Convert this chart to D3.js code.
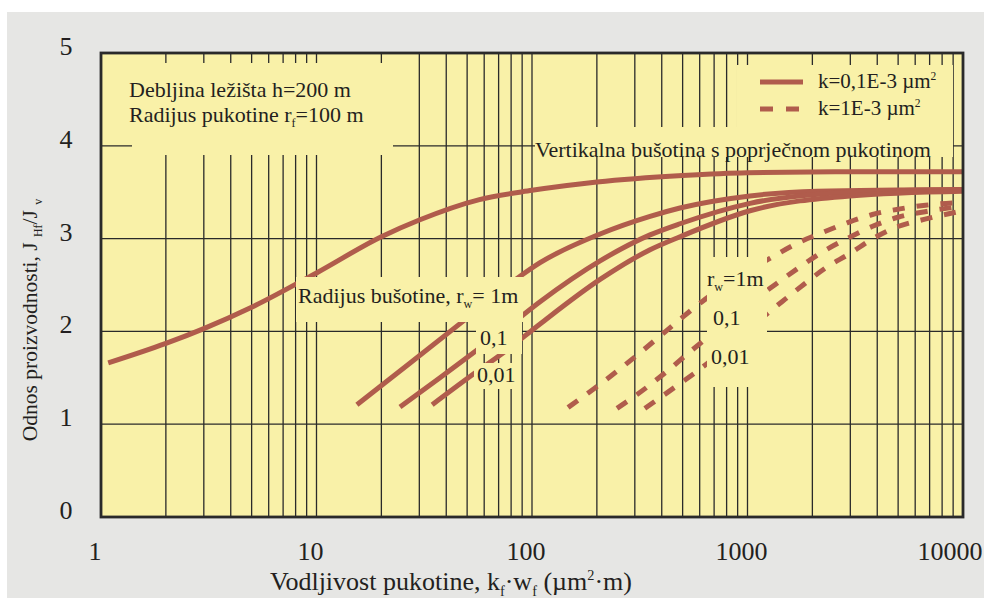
<!DOCTYPE html>
<html>
<head>
<meta charset="utf-8">
<script src="https://cdn.jsdelivr.net/npm/d3@7"></script>
<style>
  body { margin: 0; background: #fff; }
  text { font-family: "Liberation Serif", "Times New Roman", serif; fill: #231f20; }
</style>
</head>
<body>
<svg id="chart" width="984" height="598"></svg>
<script>
// tick labels
var xTicks = [1, 10, 100, 1000, 10000];
var yTicks = [0, 1, 2, 3, 4, 5];

// vertical well with transverse fracture  [kf*wf, J ratio]
var vertWell = [[1.08,1.66],[2,1.87],[3,2.03],[5,2.26],[10,2.63],[20,3.02],[30,3.20],[57,3.42],[100,3.52],[200,3.61],[500,3.68],[1000,3.71],[3000,3.72],[10000,3.72]];

// k = 0,1E-3 um2 (solid), rw = 1 / 0,1 / 0,01 m
var solidR1   = [[15.4,1.21],[27.2,1.66],[47.3,2.10],[85.2,2.57],[109,2.74],[207,3.05],[353,3.24],[486,3.33],[1027,3.46],[2100,3.51],[10000,3.53]];
var solidR01  = [[24.4,1.185],[37.4,1.50],[55.6,1.80],[77.4,2.05],[109,2.32],[207,2.76],[353,3.04],[486,3.16],[1027,3.38],[2990,3.50],[10000,3.53]];
var solidR001 = [[34.4,1.21],[52.7,1.53],[76.6,1.80],[109,2.08],[207,2.56],[353,2.88],[486,3.02],[1027,3.30],[2990,3.46],[10000,3.51]];

// k = 1E-3 um2 (dashed), rw = 1 / 0,1 / 0,01 m
var dashR1   = [[147,1.18],[196,1.39],[251,1.58],[317,1.77],[393,1.95],[486,2.13],[615,2.32],[1300,2.80],[1700,2.95],[2200,3.06],[2900,3.17],[3800,3.26],[5100,3.32],[6700,3.36],[10000,3.39]];
var dashR01  = [[248,1.17],[342,1.40],[428,1.58],[541,1.78],[1371,2.52],[1714,2.68],[2240,2.86],[2896,3.00],[3784,3.13],[4990,3.23],[6665,3.29],[10000,3.35]];
var dashR001 = [[334,1.17],[461,1.40],[583,1.57],[1445,2.32],[1811,2.50],[2291,2.68],[2990,2.84],[3822,3.00],[4990,3.13],[6665,3.21],[10000,3.30]];

var curveColor = "#b05c4c";
var plotColor = "#f9f1a8";
var lineDark = "#2a2a2a";

var svg = d3.select("#chart");

// grey panel
svg.append("rect").attr("x", 7).attr("y", 12).attr("width", 977).attr("height", 586).attr("fill", "#e6e6e4");

var plotL = 101, plotR = 963, plotT = 53, plotB = 517;

var xScale = d3.scaleLog().domain([1, 10000]).range([plotL, plotR]);
var yScale = d3.scaleLinear().domain([0, 5]).range([plotB, plotT]);

svg.append("rect").attr("x", plotL).attr("y", plotT).attr("width", plotR-plotL).attr("height", plotB-plotT).attr("fill", plotColor);

// grid
var xGrid = [];
for (var p = 0; p < 4; p++) {
    for (var m = 1; m <= 9; m++) {
        var v = m * Math.pow(10, p);
        if (v > 1 && v < 10000) xGrid.push(v);
    }
}
var grid = svg.append("g").attr("stroke", lineDark).attr("stroke-width", 1.3);
grid.selectAll(".vx").data(xGrid).enter().append("line")
    .attr("x1", d=>xScale(d)).attr("x2", d=>xScale(d))
    .attr("y1", plotT).attr("y2", plotB);
grid.selectAll(".hy").data(yTicks.filter(d=>d>0 && d<5)).enter().append("line")
    .attr("y1", d=>yScale(d)).attr("y2", d=>yScale(d))
    .attr("x1", plotL).attr("x2", plotR);

// curves
var line = d3.line()
    .x(d=>xScale(d[0]))
    .y(d=>yScale(d[1]))
    .curve(d3.curveMonotoneX);

var series = [
    {values: vertWell, dash: null},
    {values: solidR1, dash: null},
    {values: solidR01, dash: null},
    {values: solidR001, dash: null},
    {values: dashR1, dash: "12,12"},
    {values: dashR01, dash: "12,12"},
    {values: dashR001, dash: "12,12"}
];

svg.append("g").selectAll("path").data(series).enter().append("path")
    .attr("d", d=>line(d.values))
    .attr("fill", "none")
    .attr("stroke", curveColor)
    .attr("stroke-width", 5)
    .attr("stroke-dasharray", d=>d.dash);

// label boxes that hide grid and curves
var boxes = [
    [132, 63, 393, 155],
    [737, 65, 953, 147],
    [535, 127, 953, 157],
    [296, 277, 523, 322],
    [476, 322, 522, 354],
    [474, 363, 514, 389],
    [707, 257, 767, 387]
];
svg.append("g").selectAll("rect").data(boxes).enter().append("rect")
    .attr("x", d=>d[0]).attr("y", d=>d[1])
    .attr("width", d=>d[2]-d[0]).attr("height", d=>d[3]-d[1])
    .attr("fill", plotColor);

// frame
svg.append("rect").attr("x", plotL).attr("y", plotT).attr("width", plotR-plotL).attr("height", plotB-plotT)
    .attr("fill", "none").attr("stroke", lineDark).attr("stroke-width", 2.8);

// text with sub/superscripts
function rich(g, x, y, size, parts) {
    var t = g.append("text").attr("x", x).attr("y", y).style("font-size", size + "px");
    var shift = 0;
    parts.forEach(function(p) {
        var str = typeof p === "string" ? p : p[0];
        var kind = typeof p === "string" ? null : p[1];
        var target = kind === "sub" ? size*0.22 : kind === "sup" ? -size*0.38 : 0;
        t.append("tspan")
            .attr("dy", target - shift)
            .style("font-size", kind ? (size*0.55) + "px" : null)
            .text(str);
        shift = target;
    });
    return t;
}

var ann = svg.append("g");
rich(ann, 129, 97, 22, ["Debljina ležišta h=200 m"]);
rich(ann, 129, 122, 22, ["Radijus pukotine r", ["f", "sub"], "=100 m"]);
rich(ann, 535, 157, 22, ["Vertikalna bušotina s poprječnom pukotinom"]);
rich(ann, 298, 303, 22, ["Radijus bušotine, r", ["w", "sub"], "= 1m"]);
rich(ann, 480, 345, 22, ["0,1"]);
rich(ann, 477, 382, 22, ["0,01"]);
rich(ann, 707, 286, 22, ["r", ["w", "sub"], "=1m"]);
rich(ann, 713, 325, 22, ["0,1"]);
rich(ann, 711, 364, 22, ["0,01"]);

// legend
var legend = svg.append("g");
legend.append("line").attr("x1", 760).attr("x2", 803).attr("y1", 82).attr("y2", 82)
    .attr("stroke", curveColor).attr("stroke-width", 5);
legend.append("line").attr("x1", 760).attr("x2", 803).attr("y1", 109).attr("y2", 109)
    .attr("stroke", curveColor).attr("stroke-width", 5).attr("stroke-dasharray", "13,13");
rich(legend, 818, 88, 21, ["k=0,1E-3 µm", ["2", "sup"]]);
rich(legend, 818, 115, 21, ["k=1E-3 µm", ["2", "sup"]]);

// tick labels
svg.append("g").selectAll("text").data(yTicks).enter().append("text")
    .attr("x", 66).attr("y", d=>yScale(d) + 2)
    .attr("text-anchor", "middle")
    .style("font-size", "26px")
    .text(d=>d);

svg.append("g").selectAll("text").data(xTicks).enter().append("text")
    .attr("x", d=>Math.min(xScale(d) - 6, 950)).attr("y", 560)
    .attr("text-anchor", "middle")
    .style("font-size", "26px")
    .text(d=>d);

// axis titles
rich(svg, 270, 590, 26, ["Vodljivost pukotine, k", ["f", "sub"], "·w", ["f", "sub"], " (µm", ["2", "sup"], "·m)"]);

var yt = svg.append("g").attr("transform", "translate(37,320) rotate(-90)");
rich(yt, 0, 0, 21.5, ["Odnos proizvodnosti, J ", ["Hf", "sub"], "/J ", ["v", "sub"]]).attr("text-anchor", "middle");
</script>
</body>
</html>
